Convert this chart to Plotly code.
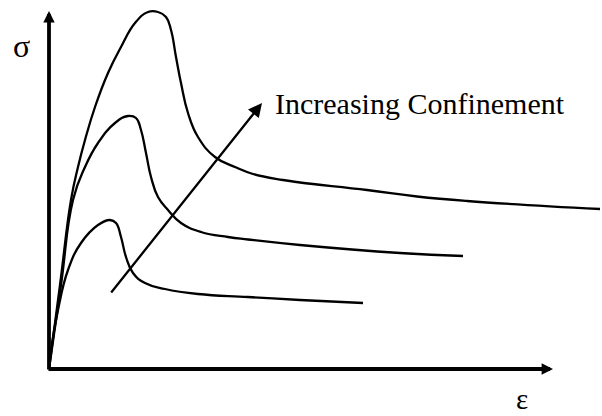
import plotly.graph_objects as go

# Schematic stress-strain curves (strain, stress in arbitrary units)
low_strain = [0, 0.02, 0.09, 0.19, 0.32, 0.49, 0.61, 0.67, 0.72, 0.77, 0.84, 0.96, 1.16, 1.49, 1.99, 2.51, 3.14]
low_stress = [0, 0.19, 0.59, 0.99, 1.26, 1.44, 1.49, 1.46, 1.32, 1.12, 0.96, 0.86, 0.80, 0.75, 0.72, 0.69, 0.66]

mid_strain = [0, 0.12, 0.24, 0.36, 0.49, 0.66, 0.79, 0.87, 0.92, 0.97, 1.02, 1.09, 1.19, 1.32, 1.52, 1.79, 1.99, 2.51, 3.51, 4.14]
mid_stress = [0, 0.84, 1.69, 2.02, 2.26, 2.46, 2.53, 2.51, 2.39, 2.16, 1.92, 1.72, 1.59, 1.46, 1.37, 1.32, 1.295, 1.24, 1.16, 1.13]

high_strain = [0, 0.11, 0.22, 0.29, 0.36, 0.46, 0.59, 0.72, 0.86, 0.99, 1.09, 1.17, 1.22, 1.27, 1.32, 1.39, 1.49, 1.66, 1.86, 2.04, 2.34, 2.51, 3.18, 3.68, 4.18, 5.51]
high_stress = [0, 0.84, 1.69, 2.02, 2.29, 2.62, 2.96, 3.22, 3.46, 3.57, 3.57, 3.52, 3.39, 3.12, 2.86, 2.56, 2.32, 2.12, 2.02, 1.95, 1.89, 1.865, 1.79, 1.725, 1.68, 1.60]

arrow_tail = (0.61, 0.75)
arrow_head = (2.13, 2.66)
arrow_label = "Increasing Confinement"
y_label = "σ"
x_label = "ε"
x_axis_end = 5.04
y_axis_end = 3.58

FONT = "Liberation Serif, Times New Roman, serif"

fig = go.Figure()
for xs, ys in [(low_strain, low_stress), (mid_strain, mid_stress), (high_strain, high_stress)]:
    fig.add_trace(go.Scatter(x=xs, y=ys, mode="lines",
                             line=dict(color="black", width=2.3, shape="spline", smoothing=1.3),
                             hoverinfo="skip", showlegend=False))

annotations = [
    # y axis
    dict(x=0, y=y_axis_end, ax=0, ay=-0.02, xref="x", yref="y", axref="x", ayref="y",
         showarrow=True, arrowhead=2, arrowwidth=3.8, arrowsize=0.6, arrowcolor="black", text="", standoff=0),
    # x axis
    dict(x=x_axis_end, y=0, ax=-0.02, ay=0, xref="x", yref="y", axref="x", ayref="y",
         showarrow=True, arrowhead=2, arrowwidth=3.8, arrowsize=0.6, arrowcolor="black", text="", standoff=0),
    # confinement arrow
    dict(x=arrow_head[0], y=arrow_head[1], ax=arrow_tail[0], ay=arrow_tail[1], xref="x", yref="y",
         axref="x", ayref="y", showarrow=True, arrowhead=2, arrowwidth=2.3, arrowsize=1.2,
         arrowcolor="black", text="", standoff=0),
    dict(x=arrow_head[0] + 0.11, y=arrow_head[1], xref="x", yref="y", text=arrow_label, showarrow=False,
         xanchor="left", yanchor="middle", font=dict(family=FONT, size=30, color="black")),
    dict(x=-0.28, y=3.23, xref="x", yref="y", text=y_label, showarrow=False,
         xanchor="center", yanchor="middle", font=dict(family=FONT, size=32, color="black")),
    dict(x=4.73, y=0, xref="x", yref="paper", text=x_label, showarrow=False,
         xanchor="center", yanchor="bottom", borderpad=0, font=dict(family=FONT, size=29, color="black")),
]

fig.update_layout(
    width=602, height=416,
    margin=dict(l=0, r=0, t=0, b=0),
    paper_bgcolor="white", plot_bgcolor="white",
    xaxis=dict(range=[-0.49, 5.53], visible=False, fixedrange=True),
    yaxis=dict(range=[-0.47, 3.69], visible=False, fixedrange=True),
    annotations=annotations,
    showlegend=False,
)

fig.write_html("out.html", config={"displayModeBar": False},
               post_script="document.body.style.margin='0';document.body.style.overflow='hidden';")
